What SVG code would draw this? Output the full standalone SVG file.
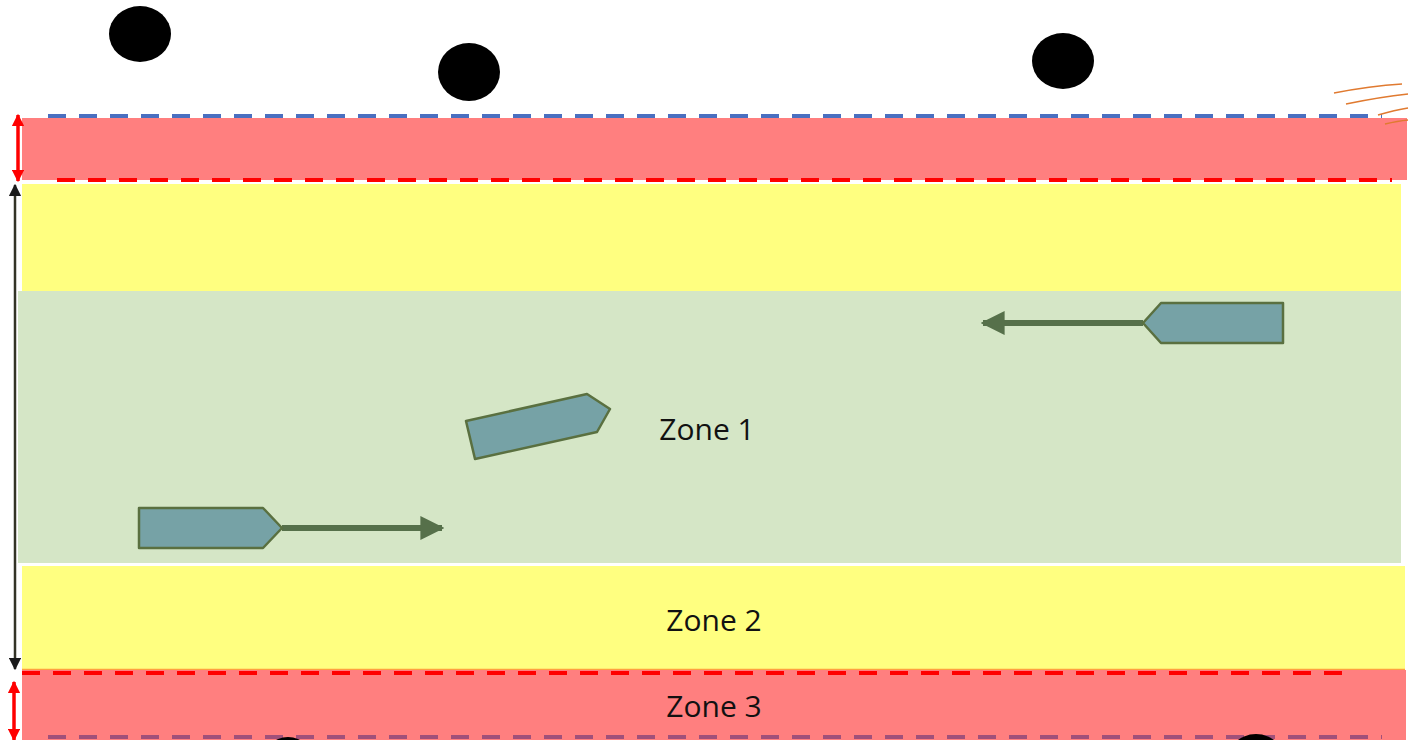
<svg xmlns="http://www.w3.org/2000/svg" width="1409" height="740" viewBox="0 0 1409 740">
<style>
.red{fill:#ff7f7f}
.yel{fill:#ffff80}
.grn{fill:#d5e6c6}
.ship{fill:#76a2a6;stroke:#5a7040;stroke-width:2.5;stroke-linejoin:round}
.heading{stroke:#56704a;stroke-width:6;fill:none}
.dash{stroke-width:4;stroke-dasharray:18 13;fill:none}
.lbl{font-family:"Open Sans","Liberation Sans",sans-serif;font-size:30px;fill:#111;text-anchor:middle}
.buoy{fill:#000}
.scrib{stroke:#e07a30;stroke-width:1.5;fill:none}
</style>
<defs>
<marker id="hdArrow" viewBox="0 0 10 10" refX="9" refY="5" markerWidth="4" markerHeight="4.2" orient="auto" markerUnits="strokeWidth">
<path d="M0,0 L10,5 L0,10 z" fill="#56704a"/>
</marker>
<marker id="redArrow" viewBox="0 0 10 10" refX="9" refY="5" markerWidth="4" markerHeight="3.5" orient="auto-start-reverse" markerUnits="strokeWidth">
<path d="M0,0 L10,5 L0,10 z" fill="#ff0000"/>
</marker>
<marker id="blkArrow" viewBox="0 0 10 10" refX="9" refY="5" markerWidth="5" markerHeight="5" orient="auto-start-reverse" markerUnits="strokeWidth">
<path d="M0,0 L10,5 L0,10 z" fill="#1a1a1a"/>
</marker>
</defs>
<rect width="1409" height="740" fill="#fff"/>
<g id="zones">
<rect id="zone3-top" class="red" x="22" y="118" width="1385" height="62"/>
<rect id="zone2-top" class="yel" x="22" y="184" width="1379" height="107"/>
<rect id="zone1" class="grn" x="18" y="291" width="1383" height="272"/>
<rect id="zone2-bottom" class="yel" x="22" y="566" width="1383" height="103"/>
<line x1="22" y1="669.5" x2="1405" y2="669.5" stroke="#ffa040" stroke-width="1.5"/>
<rect id="zone3-bottom" class="red" x="22" y="670" width="1384" height="70"/>
</g>
<g id="boundaries">
<line class="dash" x1="48" y1="116" x2="1382" y2="116" stroke="#4a6fc0"/>
<line class="dash" x1="57" y1="180" x2="1392" y2="180" stroke="#ff0000"/>
<line class="dash" x1="22" y1="673" x2="1354" y2="673" stroke="#ff0000"/>
<line class="dash" x1="48" y1="737" x2="1382" y2="737" stroke="#a0507a"/>
</g>
<g id="buoys">
<ellipse class="buoy" cx="140" cy="34" rx="31" ry="28"/>
<ellipse class="buoy" cx="469" cy="72" rx="31" ry="29"/>
<ellipse class="buoy" cx="1063" cy="61" rx="31" ry="28"/>
<ellipse class="buoy" cx="288" cy="764" rx="26" ry="27"/>
<ellipse class="buoy" cx="1256" cy="766" rx="31" ry="32"/>
</g>
<g id="scribbles">
<path class="scrib" d="M1334,93 Q1370,86 1402,84"/>
<path class="scrib" d="M1346,104 Q1380,97 1408,94"/>
<path class="scrib" d="M1378,115 Q1395,110 1408,108"/>
<path class="scrib" d="M1385,124 Q1398,121 1408,120"/>
</g>
<g id="connectors">
<line x1="18" y1="115" x2="18" y2="181" stroke="#ff0000" stroke-width="3.5" marker-start="url(#redArrow)" marker-end="url(#redArrow)"/>
<line x1="15" y1="185" x2="15" y2="669" stroke="#333326" stroke-width="2.5" marker-start="url(#blkArrow)" marker-end="url(#blkArrow)"/>
<line x1="14" y1="682" x2="14" y2="740" stroke="#ff0000" stroke-width="3.5" marker-start="url(#redArrow)" marker-end="url(#redArrow)"/>
<line class="heading" x1="1143" y1="323" x2="983" y2="323" marker-end="url(#hdArrow)"/>
<line class="heading" x1="282" y1="528" x2="442" y2="528" marker-end="url(#hdArrow)"/>
</g>
<g id="ship-east">
<polygon class="ship" points="1283,303 1283,343 1161,343 1143,323 1161,303"/>
</g>
<g id="ship-turning">
<polygon class="ship" points="466,421 587,394 610,409 597,432 475,459"/>
</g>
<g id="ship-west">
<polygon class="ship" points="139,508 263,508 282,528 263,548 139,548"/>
</g>
<g id="labels">
<text class="lbl" x="707" y="440">Zone 1</text>
<text class="lbl" x="714" y="631">Zone 2</text>
<text class="lbl" x="714" y="717">Zone 3</text>
</g>
</svg>
